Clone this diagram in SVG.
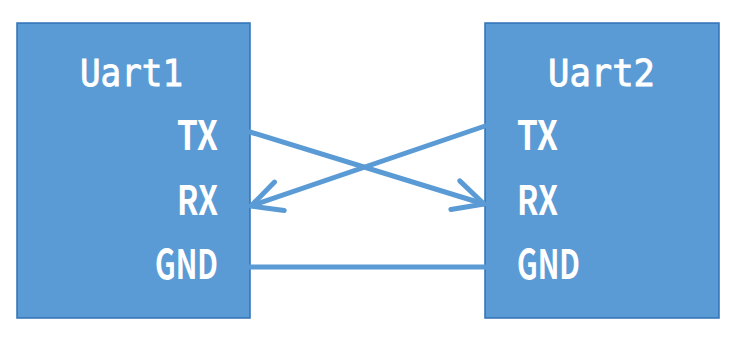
<svg xmlns="http://www.w3.org/2000/svg" width="743" height="346" viewBox="0 0 743 346">
  <defs>
    <style>
      .box { fill: #5B9BD5; stroke: #2F72B5; stroke-width: 1.5; }
      .title { font-family: "DejaVu Sans Mono", "Liberation Mono", monospace; font-size: 38px; fill: #FFFFFF; stroke: #FFFFFF; stroke-width: 0.9; }
      .pin { font-family: "Noto Sans CJK SC", "Liberation Sans", sans-serif; font-size: 40px; font-weight: bold; fill: #FFFFFF; }
      .wire { stroke: #5B9BD5; stroke-width: 5; fill: none; stroke-linecap: round; }
    </style>
    <marker id="arrow" markerUnits="userSpaceOnUse" viewBox="-40 -20 44 40" refX="0" refY="0" markerWidth="44" markerHeight="40" orient="auto">
      <path d="M -30 -15 L 0 0 L -30 15" fill="none" stroke="#5B9BD5" stroke-width="5" stroke-linecap="round" stroke-linejoin="round"/>
    </marker>
  </defs>

  <rect width="743" height="346" fill="#FFFFFF"/>

  <g id="uart1">
    <rect class="box" x="17" y="23" width="233" height="295"/>
    <text class="title" x="80" y="86" textLength="103" lengthAdjust="spacingAndGlyphs">Uart1</text>
    <text class="pin" x="218" y="150" text-anchor="end" textLength="41" lengthAdjust="spacingAndGlyphs">TX</text>
    <text class="pin" x="218" y="215" text-anchor="end" textLength="41" lengthAdjust="spacingAndGlyphs">RX</text>
    <text class="pin" x="218" y="279" text-anchor="end" textLength="63" lengthAdjust="spacingAndGlyphs">GND</text>
  </g>

  <g id="uart2">
    <rect class="box" x="485" y="23" width="234" height="295"/>
    <text class="title" x="548" y="86" textLength="107" lengthAdjust="spacingAndGlyphs">Uart2</text>
    <text class="pin" x="517" y="150" textLength="41" lengthAdjust="spacingAndGlyphs">TX</text>
    <text class="pin" x="517" y="215" textLength="41" lengthAdjust="spacingAndGlyphs">RX</text>
    <text class="pin" x="517" y="279" textLength="63" lengthAdjust="spacingAndGlyphs">GND</text>
  </g>

  <g id="connectors">
    <line class="wire" x1="250" y1="132" x2="484" y2="204" marker-end="url(#arrow)"/>
    <line class="wire" x1="485" y1="126" x2="251" y2="206" marker-end="url(#arrow)"/>
    <line class="wire" x1="250" y1="267" x2="485" y2="267" stroke-linecap="butt"/>
  </g>
</svg>
